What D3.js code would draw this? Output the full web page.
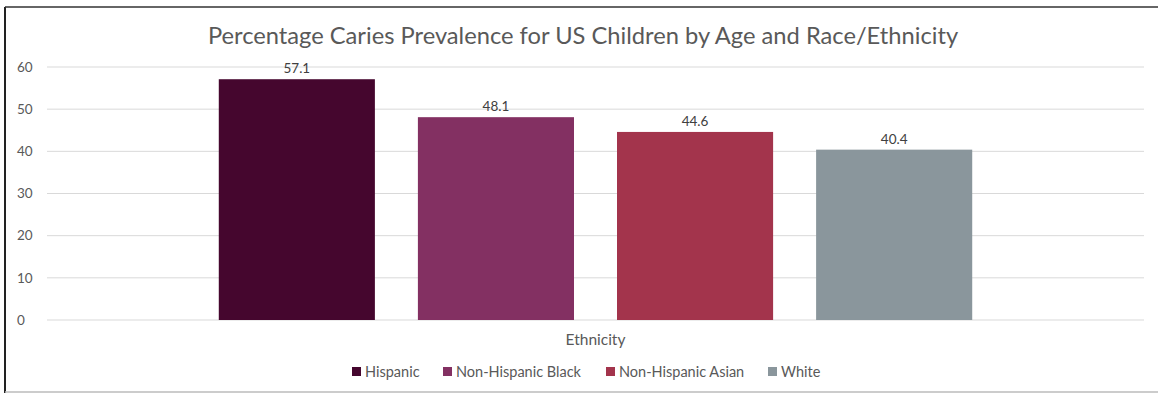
<!DOCTYPE html>
<html>
<head>
<meta charset="utf-8">
<script src="https://cdn.jsdelivr.net/npm/d3@7"></script>
<style>
  body { margin: 0; background: #fff; }
  text { font-family: Lato, "Open Sans", sans-serif; }
</style>
</head>
<body>
<script>
const groups = ["Ethnicity"];
const series = ["Hispanic", "Non-Hispanic Black", "Non-Hispanic Asian", "White"];
const values = [57.1, 48.1, 44.6, 40.4];
const colors = ["#45062e", "#833062", "#a3344c", "#8a969c"];
const yTicks = [0, 10, 20, 30, 40, 50, 60];

const W = 1158, H = 393;
const margin = { left: 47, right: 14, top: 67, bottom: 73 };

const svg = d3.select("body").append("svg")
  .attr("width", W).attr("height", H);

// frame
svg.append("line").attr("x1", 5).attr("x2", 5).attr("y1", 7).attr("y2", H)
  .attr("stroke", "#222").attr("stroke-width", 2);
svg.append("line").attr("x1", 5).attr("x2", W).attr("y1", 7).attr("y2", 7)
  .attr("stroke", "#333").attr("stroke-width", 1.5);
svg.append("line").attr("x1", 5).attr("x2", W).attr("y1", 392).attr("y2", 392)
  .attr("stroke", "#bbb").attr("stroke-width", 1.5);

const y = d3.scaleLinear().domain([0, 60]).range([H - margin.bottom, margin.top]);
const x0 = d3.scaleBand().domain(groups).range([margin.left, W - margin.right]).paddingInner(0).paddingOuter(0.228);
const x1 = d3.scaleBand().domain(series).range([0, x0.bandwidth()]).paddingInner(0.216);

// grid
svg.append("g").selectAll("line").data(yTicks).join("line")
  .attr("x1", margin.left).attr("x2", W - margin.right)
  .attr("y1", d => y(d)).attr("y2", d => y(d))
  .attr("stroke", "#d9d9d9").attr("stroke-width", 1);

// y labels
svg.append("g").selectAll("text").data(yTicks).join("text")
  .attr("x", 17).attr("y", d => y(d)).attr("dy", "0.35em")
  .attr("font-size", 13.5).attr("fill", "#595959").text(d => d);

// bars
const g = svg.append("g").attr("transform", `translate(${x0(groups[0])},0)`);
g.selectAll("rect").data(series).join("rect")
  .attr("x", d => x1(d)).attr("width", x1.bandwidth())
  .attr("y", (d, i) => y(values[i])).attr("height", (d, i) => y(0) - y(values[i]))
  .attr("fill", (d, i) => colors[i]);
g.selectAll("text").data(series).join("text")
  .attr("x", d => x1(d) + x1.bandwidth() / 2)
  .attr("y", (d, i) => y(values[i]) - 6)
  .attr("text-anchor", "middle").attr("font-size", 13.5).attr("fill", "#404040")
  .text((d, i) => values[i].toFixed(1));

// title
svg.append("text").attr("x", 583).attr("y", 44).attr("text-anchor", "middle")
  .attr("font-size", 23.7).attr("fill", "#595959")
  .text("Percentage Caries Prevalence for US Children by Age and Race/Ethnicity");

// category label
svg.append("text").attr("x", x0(groups[0]) + x0.bandwidth() / 2).attr("y", 345)
  .attr("text-anchor", "middle").attr("font-size", 15.5).attr("fill", "#595959")
  .text(groups[0]);

// legend
const legendX = [352, 443, 606, 768];
const lg = svg.append("g").selectAll("g").data(series).join("g")
  .attr("transform", (d, i) => `translate(${legendX[i]},372)`);
lg.append("rect").attr("x", 0).attr("y", -5).attr("width", 9).attr("height", 9)
  .attr("fill", (d, i) => colors[i]);
lg.append("text").attr("x", 13).attr("y", 0).attr("dy", "0.35em")
  .attr("font-size", 14.5).attr("fill", "#595959").text(d => d);
</script>
</body>
</html>
